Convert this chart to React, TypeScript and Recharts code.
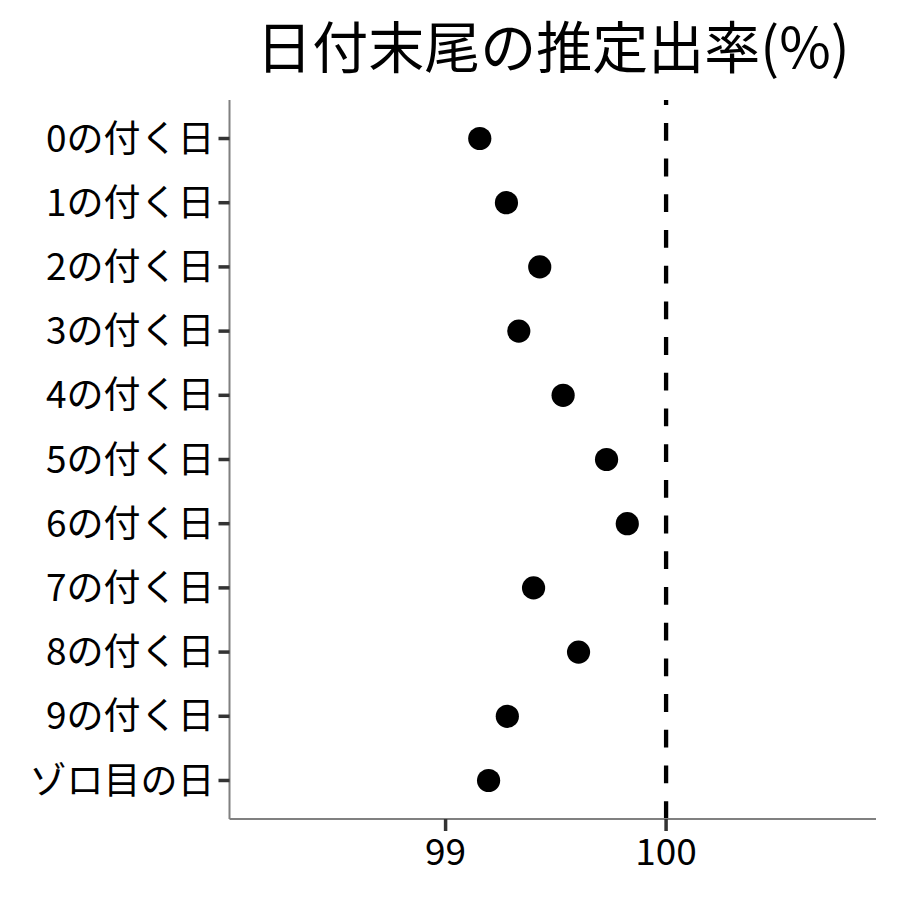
import { ScatterChart, Scatter, XAxis, YAxis, ReferenceLine } from 'recharts';

const categories = ['0の付く日', '1の付く日', '2の付く日', '3の付く日', '4の付く日', '5の付く日', '6の付く日', '7の付く日', '8の付く日', '9の付く日', 'ゾロ目の日'];
const rates = [99.155, 99.276, 99.427, 99.332, 99.533, 99.73, 99.824, 99.399, 99.603, 99.28, 99.195];
const xTicks = [99, 100];

const data = categories.map((name, i) => ({ name, pos: i + 1, rate: rates[i] }));

const font = '"Noto Sans CJK JP", "Noto Sans", sans-serif';

const Dot = (props: any) => <circle cx={props.cx} cy={props.cy} r={11.6} fill="#000" />;

export default function App() {
  return (
    <div style={{ position: 'absolute', left: 0, top: 0, width: 900, height: 900, background: '#fff' }}>
      <ScatterChart width={900} height={900} margin={{ top: 100, right: 24, bottom: 0, left: 0 }}>
        <XAxis
          type="number"
          dataKey="rate"
          domain={[98.02, 100.952]}
          ticks={xTicks}
          allowDataOverflow
          axisLine={{ stroke: '#808080', strokeWidth: 2 }}
          tickLine={{ stroke: '#333', strokeWidth: 3.5 }}
          tickSize={12}
          tickMargin={8}
          tick={{ fill: '#000', fontSize: 37, fontFamily: font }}
          height={81}
        />
        <YAxis
          type="number"
          dataKey="pos"
          domain={[0.4, 11.6]}
          reversed
          ticks={categories.map((_, i) => i + 1)}
          tickFormatter={(v: number) => categories[v - 1] ?? ''}
          interval={0}
          axisLine={{ stroke: '#808080', strokeWidth: 2 }}
          tickLine={{ stroke: '#333', strokeWidth: 3.5 }}
          tickSize={11}
          tickMargin={4}
          tick={{ fill: '#000', fontSize: 37, fontFamily: font }}
          width={229.5}
        />
        <ReferenceLine x={100} stroke="#000" strokeWidth={4.3} strokeDasharray="17.8 17.9" />
        <Scatter data={data} shape={Dot} isAnimationActive={false} />
      </ScatterChart>
      <svg width={900} height={100} style={{ position: 'absolute', left: 0, top: 0 }}>
        <text x={553} y={68} textAnchor="middle" fontSize={56} fontFamily={font} fill="#000">
          日付末尾の推定出率(%)
        </text>
      </svg>
    </div>
  );
}
